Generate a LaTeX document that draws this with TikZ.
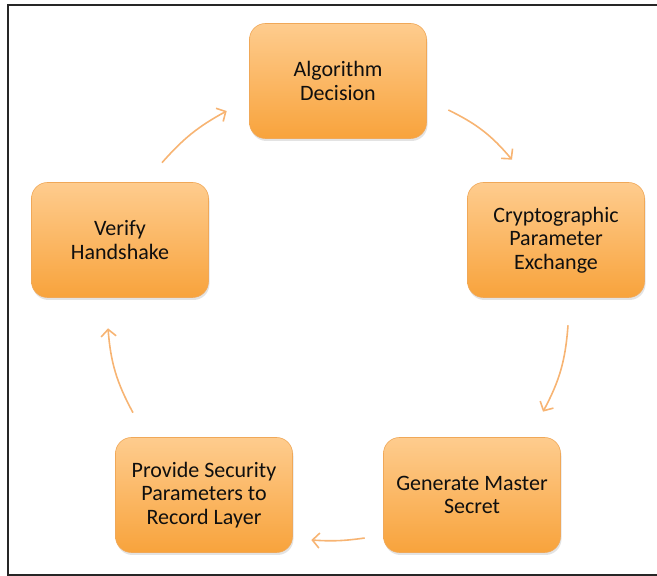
\documentclass[tikz,border=0pt]{standalone}
\usepackage{fontspec}
\setmainfont{Carlito}
\usepackage{tikz}
\usetikzlibrary{arrows.meta,shadows}
\definecolor{BoxTop}{RGB}{254,204,142}
\definecolor{BoxBottom}{RGB}{248,163,60}
\definecolor{BoxEdge}{RGB}{240,168,88}
\definecolor{ArrowOrange}{RGB}{247,180,115}
\definecolor{TextDark}{RGB}{15,15,15}

\begin{document}
\begin{tikzpicture}[
  x=1pt, y=1pt,
  stagebox/.style={
    rectangle, rounded corners=16pt,
    draw=BoxEdge, line width=0.6pt,
    top color=BoxTop, bottom color=BoxBottom,
    drop shadow={opacity=0.22, shadow xshift=1pt, shadow yshift=-2.5pt},
    minimum width=177pt, minimum height=115pt,
    align=center, text=TextDark,
    font=\fontsize{22}{23.5}\selectfont
  },
  arr/.style={draw=ArrowOrange, line width=1.6pt,
    -{Straight Barb[length=7pt, width=15pt]}}
]
\useasboundingbox (0,0) rectangle (657,576);

%% Frame
\draw[line width=2pt, draw=black!85] (657,571) -- (7.5,571) -- (7.5,1) -- (657,1);

%% Stages of the cycle
\node[stagebox] (alg)  at (338,495) {Algorithm\\Decision};
\node[stagebox] (cry)  at (556,336) {Cryptographic\\Parameter\\Exchange};
\node[stagebox] (gen)  at (472,81)  {Generate Master\\Secret};
\node[stagebox] (prov) at (204,81)  {Provide Security\\Parameters to\\Record Layer};
\node[stagebox] (ver)  at (120,336) {Verify\\Handshake};

%% Arrows
\draw[arr] ([shift={(42,19.5)}]ver.north)   to[bend left=10] ([shift={(-22.5,-30)}]alg.west);
\draw[arr] ([shift={(21.5,-29)}]alg.east)   to[bend left=12] ([shift={(-44,22.5)}]cry.north);
\draw[arr] ([shift={(12,-27.5)}]cry.south)  to[bend left=12] ([shift={(71,25.5)}]gen.north);
\draw[arr] ([shift={(-18.5,-43)}]gen.west)  to[bend left=6]  ([shift={(18.5,-45)}]prov.east);
\draw[arr] ([shift={(-71,24.5)}]prov.north) to[bend left=12] ([shift={(-12,-30.5)}]ver.south);

\end{tikzpicture}
\end{document}
